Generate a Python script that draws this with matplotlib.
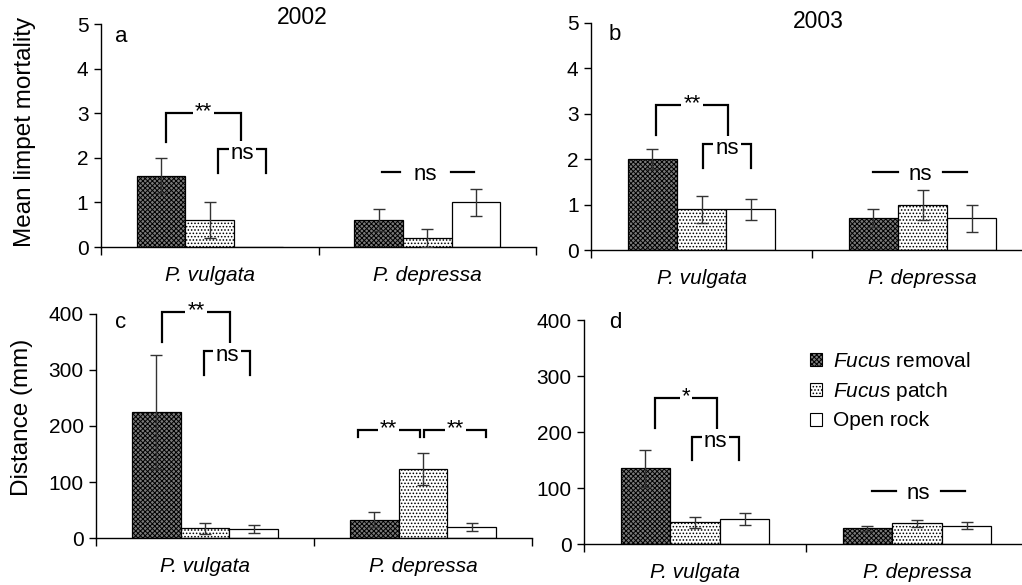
import matplotlib
matplotlib.use("Agg")
import matplotlib.pyplot as plt
from matplotlib.patches import Patch
import numpy as np

plt.rcParams['font.family'] = ['Liberation Sans', 'DejaVu Sans']
plt.rcParams['mathtext.fontset'] = 'custom'
plt.rcParams['mathtext.rm'] = 'Liberation Sans'
plt.rcParams['mathtext.it'] = 'Liberation Sans:italic'
plt.rcParams['hatch.linewidth'] = 0.7
plt.rcParams['hatch.color'] = 'black'

# ---------------- data ----------------
species = ["P. vulgata", "P. depressa"]
treatments = ["Fucus removal", "Fucus patch", "Open rock"]
legend_labels = [r"$\it{Fucus}$ removal", r"$\it{Fucus}$ patch", "Open rock"]

# mortality 2002 (panel a): rows = treatments, cols = species
mort2002 = [[1.6, 0.6], [0.6, 0.2], [0.0, 1.0]]
mort2002_se = [[0.4, 0.25], [0.4, 0.2], [0.0, 0.3]]
# mortality 2003 (panel b)
mort2003 = [[2.0, 0.7], [0.9, 1.0], [0.9, 0.7]]
mort2003_se = [[0.22, 0.2], [0.3, 0.33], [0.23, 0.3]]
# distance 2002 (panel c)
dist2002 = [[225, 33], [17, 123], [16, 20]]
dist2002_se = [[102, 13], [10, 29], [7, 7]]
# distance 2003 (panel d)
dist2003 = [[135, 28], [39, 37], [45, 33]]
dist2003_se = [[33, 4], [10, 6], [11, 6]]

years = ["2002", "2003"]
panel_letters = ["a", "b", "c", "d"]

# significance annotations (x in category units, y in data units)
# bracket: (x_left, x_right, y_top, y_bottom_left, y_bottom_right, label)
# dash:    (x1, x2, x3, x4, y, label)
annot_a = [("bracket", -0.20, 0.145, 3.0, 2.36, 2.40, "**"),
           ("bracket", 0.04, 0.26, 2.2, 1.66, 1.66, "ns"),
           ("dash", 0.79, 0.875, 1.11, 1.215, 1.68, "ns")]
annot_b = [("bracket", -0.205, 0.12, 3.2, 2.53, 2.53, "**"),
           ("bracket", 0.007, 0.224, 2.33, 1.8, 1.8, "ns"),
           ("dash", 0.776, 0.889, 1.093, 1.20, 1.72, "ns")]
annot_c = [("bracket", -0.197, 0.115, 403, 350, 350, "**"),
           ("bracket", -0.005, 0.206, 334, 291, 291, "ns"),
           ("bracket", 0.70, 0.985, 193, 180, 180, "**"),
           ("bracket", 1.005, 1.29, 193, 180, 180, "**")]
annot_d = [("bracket", -0.18, 0.099, 261, 207, 207, "*"),
           ("bracket", -0.014, 0.198, 191, 150, 150, "ns"),
           ("dash", 0.797, 0.905, 1.108, 1.216, 95, "ns")]

# ---------------- style ----------------
face = ['#7a7a7a', 'white', 'white']
hatches = ['xxxxxxx', '.....', None]
bar_w = 0.223
FS = 15

fig = plt.figure(figsize=(10.22, 5.85), dpi=100)
W, H = 1022, 585

def ax_from_px(x0, x1, ytop, ybot):
    return fig.add_axes([x0 / W, 1 - ybot / H, (x1 - x0) / W, (ybot - ytop) / H])

axa = ax_from_px(101, 536, 24, 247)
axb = ax_from_px(591, 1033, 23, 250)
axc = ax_from_px(96, 532, 314, 538)
axd = ax_from_px(584, 1028, 320, 544)

def draw(ax, vals, ses, ymax, yticks, annots):
    x = np.arange(len(species))
    for i in range(len(treatments)):
        v = np.array(vals[i], dtype=float)
        e = np.array(ses[i], dtype=float)
        xs = x + (i - 1) * bar_w
        ax.bar(xs, v, width=bar_w, color=face[i], edgecolor='black',
               hatch=hatches[i], linewidth=0.9, zorder=2)
        m = e > 0
        ax.errorbar(xs[m], v[m], yerr=e[m], fmt='none', ecolor='#333333',
                    elinewidth=1.0, capsize=4.5, capthick=1.0, zorder=3)
    ax.set_xlim(-0.5, 1.5)
    ax.set_ylim(0, ymax)
    ax.set_yticks(yticks)
    ax.set_xticks([-0.5, 0.5, 1.5])
    ax.set_xticklabels([])
    ax.set_xticks(x, minor=True)
    ax.set_xticklabels(species, minor=True, style='italic', fontsize=FS)
    ax.tick_params(axis='x', which='minor', length=0, pad=14)
    ax.tick_params(axis='x', which='major', length=6, width=1, direction='out')
    ax.tick_params(axis='y', length=5, width=1, direction='out', labelsize=FS, pad=4)
    for s in ['top', 'right']:
        ax.spines[s].set_visible(False)
    for s in ['left', 'bottom']:
        ax.spines[s].set_linewidth(1.0)
    ax.patch.set_alpha(0)
    for a in annots:
        kind = a[0]
        if kind == "bracket":
            _, xl, xr, yt, ybl, ybr, lab = a
            ax.plot([xl, xl, xr, xr], [ybl, yt, yt, ybr], color='black', lw=1.6,
                    solid_joinstyle='miter', zorder=4, clip_on=False)
            dy = -3 if lab == "ns" else 1
            ax.annotate(lab, ((xl + xr) / 2, yt), xytext=(0, dy), textcoords='offset points',
                        ha='center', va='center', fontsize=FS + 1, zorder=5,
                        bbox=dict(fc='white', ec='none', pad=1.5), annotation_clip=False)
        else:
            _, x1, x2, x3, x4, y, lab = a
            ax.plot([x1, x2], [y, y], color='black', lw=1.6, zorder=4)
            ax.plot([x3, x4], [y, y], color='black', lw=1.6, zorder=4)
            ax.annotate(lab, ((x2 + x3) / 2, y), xytext=(0, -2), textcoords='offset points',
                        ha='center', va='center', fontsize=FS + 1, zorder=5)

draw(axa, mort2002, mort2002_se, 5, [0, 1, 2, 3, 4, 5], annot_a)
draw(axb, mort2003, mort2003_se, 5, [0, 1, 2, 3, 4, 5], annot_b)
draw(axc, dist2002, dist2002_se, 400, [0, 100, 200, 300, 400], annot_c)
draw(axd, dist2003, dist2003_se, 400, [0, 100, 200, 300, 400], annot_d)

# panel letters and year titles (figure pixel positions)
def ftext(px, py, s, **kw):
    fig.text(px / W, 1 - py / H, s, **kw)

ftext(121, 37, "a", fontsize=FS + 1, ha='center', va='center')
ftext(615, 35, "b", fontsize=FS + 1, ha='center', va='center')
ftext(121, 322, "c", fontsize=FS + 1, ha='center', va='center')
ftext(615, 323, "d", fontsize=FS + 1, ha='center', va='center')
ftext(302, 17, years[0], fontsize=FS + 1.5, ha='center', va='center')
ftext(818, 22, years[1], fontsize=FS + 1.5, ha='center', va='center')
ftext(25, 132, "Mean limpet mortality", fontsize=FS + 2.5, ha='center', va='center', rotation=90)
ftext(22, 417, "Distance (mm)", fontsize=FS + 2.5, ha='center', va='center', rotation=90)

handles = [Patch(facecolor=face[i], edgecolor='black', hatch=hatches[i], linewidth=0.8)
           for i in range(3)]
fig.legend(handles, legend_labels, loc='upper left', bbox_to_anchor=(810 / W, 1 - 352 / H),
           frameon=False, fontsize=FS, handlelength=0.58, handleheight=0.58,
           handletextpad=0.5, labelspacing=0.42, borderpad=0, borderaxespad=0)

fig.savefig("out.png", dpi=100)
